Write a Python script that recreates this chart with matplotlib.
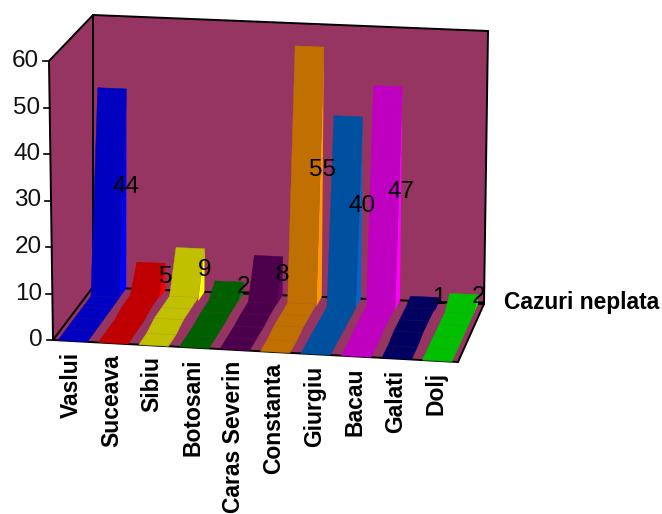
import numpy as np
import matplotlib
matplotlib.use('Agg')
import matplotlib.pyplot as plt
from matplotlib.patches import Polygon

plt.rcParams['font.family'] = ['Liberation Sans', 'DejaVu Sans']

categories = ['Vaslui', 'Suceava', 'Sibiu', 'Botosani', 'Caras Severin',
              'Constanta', 'Giurgiu', 'Bacau', 'Galati', 'Dolj']
values = [44, 5, 9, 2, 8, 55, 40, 47, 1, 2]
# the walls of the small bars stand a bit above their label in the picture
top_lift = [0, 0.9, 0.5, 0.5, 0.5, 0, 0, 0, 0, 0]
series_name = 'Cazuri neplata'
y_ticks = [0, 10, 20, 30, 40, 50, 60]

# small height of the ramp in front of each wall, at the depth stations
ramp_heights = [
    [0, 0, 0, 0, 0],
    [0, 0, 0, 0.6, 0.6],
    [0, 0, 0.8, 0.8, 0.8],
    [0, 0, 0, 0.3, 0.3],
    [0, 0, 0, 0.3, 0.3],
    [0, 0, 0.5, 0.5, 0.5],
    [0, 0, 0, 0, 0],
    [0, 0, 0.5, 0.5, 0.5],
    [0, 0, 0.6, 0.6, 0.6],
    [0, 0, 0, 0, 0],
]
face_colors = ['#0000C0', '#C00000', '#C0C000', '#006000', '#4C004C',
               '#C07000', '#0050A0', '#C000C0', '#000060', '#00C000']
side_colors = ['#0000FF', '#FF0000', '#FFFF00', '#008000', '#660066',
               '#FF9900', '#0066CC', '#FF00FF', '#000080', '#00FF00']
wall_color = '#963462'

# box corners in pixels: (right, back, top) flags
corners = {(0, 0, 0): (53, 340), (1, 0, 0): (458, 362),
           (0, 1, 0): (93, 287), (1, 1, 0): (484, 304),
           (0, 0, 1): (49, 61), (1, 0, 1): (464, 78),
           (0, 1, 1): (93, 15), (1, 1, 1): (488, 31)}
y_max = 60.0
n = len(categories)
stations = [0, 0.21, 0.42, 0.62, 0.83]


def proj(cat, depth, val):
    u = cat / n
    w = val / y_max
    p = np.zeros(2)
    for (a, b, c), xy in corners.items():
        weight = (u if a else 1 - u) * (depth if b else 1 - depth) * (w if c else 1 - w)
        p += weight * np.array(xy)
    return tuple(p)


fig = plt.figure(figsize=(6.62, 5.14), dpi=100)
ax = fig.add_axes([0, 0, 1, 1])
ax.set_xlim(0, 662)
ax.set_ylim(514, 0)
ax.axis('off')

# walls and floor
for pts in [[(0, 0, 0), (0, 1, 0), (0, 1, 1), (0, 0, 1)],
            [(0, 1, 0), (1, 1, 0), (1, 1, 1), (0, 1, 1)],
            [(0, 0, 0), (1, 0, 0), (1, 1, 0), (0, 1, 0)]]:
    ax.add_patch(Polygon([corners[k] for k in pts], fc=wall_color, ec='none', zorder=1))
for a, b in [((0, 0, 0), (0, 0, 1)), ((0, 0, 1), (0, 1, 1)), ((0, 1, 1), (1, 1, 1)),
             ((0, 1, 1), (0, 1, 0)), ((0, 1, 0), (0, 0, 0)), ((0, 1, 0), (1, 1, 0)),
             ((0, 0, 0), (1, 0, 0)), ((1, 0, 0), (1, 1, 0)), ((1, 1, 0), (1, 1, 1))]:
    ax.plot(*zip(corners[a], corners[b]), color='black', lw=1.4, zorder=2,
            solid_capstyle='round')

# ribbons
left, right = 0.12, 0.85
for i in range(n):
    zo = 3 + i * 0.1
    h = ramp_heights[i]
    v = values[i] + top_lift[i]
    # sliver on the right side
    side = [proj(i + right, stations[-1], 0), proj(i + right, 1, 0), proj(i + right, 1, v),
            proj(i + right, stations[-1], h[-1])]
    ax.add_patch(Polygon(side, fc=side_colors[i], ec='none', zorder=zo))
    # ramp
    outline = [proj(i + left, d, t) for d, t in zip(stations, h)]
    outline += [proj(i + left, 1, v), proj(i + right, 1, v)]
    outline += [proj(i + right, d, t) for d, t in zip(stations[::-1], h[::-1])]
    ax.add_patch(Polygon(outline, fc=face_colors[i], ec=face_colors[i], lw=0.3, zorder=zo + 0.01))
    for d, t in zip(stations[1:], h[1:]):
        ax.plot(*zip(proj(i + left, d, t), proj(i + right, d, t)),
                color=wall_color, lw=0.4, alpha=0.22, zorder=zo + 0.02)

# value labels
for i, v in enumerate(values):
    x, y = proj(i + right, 1, v / 2 + 0.4)
    ax.text(x, y, str(v), ha='center', va='center', fontsize=17.5, color='black', zorder=10)

# y axis
for t in y_ticks:
    x, y = proj(0, 0, t)
    ax.plot([x - 6, x], [y, y], color='black', lw=1.2, zorder=2)
    ax.text(39 + (x - 49), y, str(t), ha='right', va='center', fontsize=17.5, color='#111111')

# category labels
for i, c in enumerate(categories):
    x, y = proj(i + 0.485, 0, 0)
    ax.text(x - 1.5, y + 11, c, rotation=90, ha='center', va='top', fontsize=16.5,
            fontweight='bold', color='black')

ax.text(504, 303, series_name, ha='left', va='center', fontsize=16.4, fontweight='bold',
        color='black')

fig.savefig('out.png', dpi=100)
